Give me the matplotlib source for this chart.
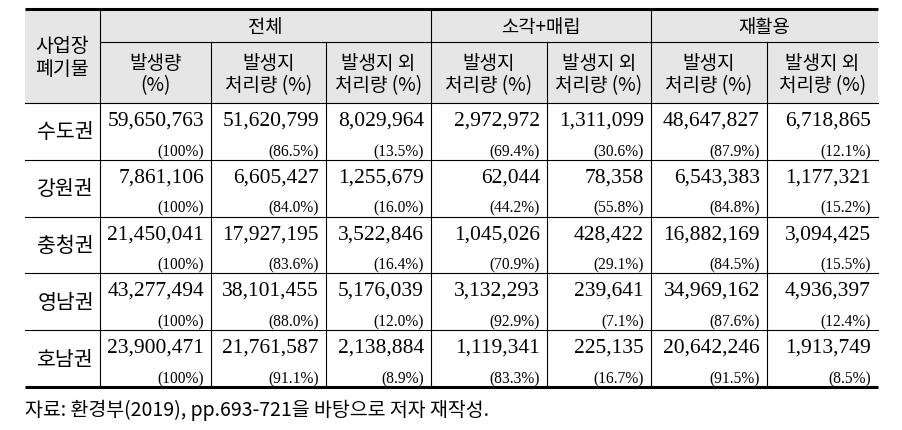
import matplotlib
matplotlib.use("Agg")
import matplotlib.pyplot as plt

plt.rcParams['font.family'] = ['Noto Sans CJK KR', 'DejaVu Sans']

regions = ["수도권", "강원권", "충청권", "영남권", "호남권"]
group_headers = ["전체", "소각+매립", "재활용"]
sub_headers = ["발생량\n(%)", "발생지\n처리량 (%)", "발생지 외\n처리량 (%)",
               "발생지\n처리량 (%)", "발생지 외\n처리량 (%)",
               "발생지\n처리량 (%)", "발생지 외\n처리량 (%)"]
corner_header = "사업장\n폐기물"

amounts = [
    [59650763, 51620799, 8029964, 2972972, 1311099, 48647827, 6718865],
    [7861106, 6605427, 1255679, 62044, 78358, 6543383, 1177321],
    [21450041, 17927195, 3522846, 1045026, 428422, 16882169, 3094425],
    [43277494, 38101455, 5176039, 3132293, 239641, 34969162, 4936397],
    [23900471, 21761587, 2138884, 1119341, 225135, 20642246, 1913749],
]
shares = [
    ["100%", "86.5%", "13.5%", "69.4%", "30.6%", "87.9%", "12.1%"],
    ["100%", "84.0%", "16.0%", "44.2%", "55.8%", "84.8%", "15.2%"],
    ["100%", "83.6%", "16.4%", "70.9%", "29.1%", "84.5%", "15.5%"],
    ["100%", "88.0%", "12.0%", "92.9%", "7.1%", "87.6%", "12.4%"],
    ["100%", "91.1%", "8.9%", "83.3%", "16.7%", "91.5%", "8.5%"],
]
source_note = "자료: 환경부(2019), pp.693-721을 바탕으로 저자 재작성."

# layout (pixel coordinates)
W, H = 903, 431
col_x = [25, 100, 211, 326, 431, 547, 651, 767, 878]
group_spans = [(1, 4), (4, 6), (6, 8)]
y_top, y_mid, y_head = 10, 43, 104
row_h = 56.8

fig = plt.figure(figsize=(W / 100, H / 100), dpi=100)
ax = fig.add_axes([0, 0, 1, 1])
ax.set_xlim(0, W)
ax.set_ylim(H, 0)
ax.axis('off')

# header background
ax.add_patch(plt.Rectangle((col_x[0], y_top), col_x[-1] - col_x[0], y_head - y_top,
                           facecolor='#e6e6e6', edgecolor='none', zorder=0))

serif = ['Liberation Serif', 'DejaVu Serif']
kfont = ['Noto Sans CJK KR', 'DejaVu Sans']
lw_thin = 0.8
lw_thick = 2.2

# horizontal lines
ax.plot([col_x[0], col_x[-1]], [y_top, y_top], color='black', lw=lw_thick, solid_capstyle='butt')
ax.plot([col_x[1], col_x[-1]], [y_mid, y_mid], color='black', lw=lw_thin)
ax.plot([col_x[0], col_x[-1]], [y_head, y_head], color='black', lw=lw_thin)
n = len(regions)
for i in range(1, n):
    y = y_head + i * row_h
    ax.plot([col_x[0], col_x[-1]], [y, y], color='black', lw=lw_thin)
y_bot = y_head + n * row_h
ax.plot([col_x[0], col_x[-1]], [y_bot, y_bot], color='black', lw=lw_thick, solid_capstyle='butt')

# vertical lines
for c in [1, 4, 6]:
    ax.plot([col_x[c], col_x[c]], [y_top, y_bot], color='black', lw=lw_thin)
for c in [2, 3, 5, 7]:
    ax.plot([col_x[c], col_x[c]], [y_mid, y_bot], color='black', lw=lw_thin)

# headers
ax.text((col_x[0] + col_x[1]) / 2, (y_top + y_head) / 2 + 1, corner_header,
        ha='center', va='center', fontsize=14, family=kfont, linespacing=1.1)
for (a, b), g in zip(group_spans, group_headers):
    ax.text((col_x[a] + col_x[b]) / 2, (y_top + y_mid) / 2 + 1, g,
            ha='center', va='center', fontsize=13.5, family=kfont)
for j, s in enumerate(sub_headers):
    ax.text((col_x[j + 1] + col_x[j + 2]) / 2, (y_mid + y_head) / 2 + 1, s,
            ha='center', va='center', fontsize=13.7, family=kfont, linespacing=1.1)

# body
for i, reg in enumerate(regions):
    y0 = y_head + i * row_h
    ax.text(col_x[1] - 6, y0 + row_h / 2, reg, ha='right', va='center',
            fontsize=14.8, family=kfont)
    for j in range(7):
        xr = col_x[j + 2] - 7
        ax.text(xr, y0 + 17, f"{amounts[i][j]:,}", ha='right', va='center',
                fontsize=15.5, family=serif)
        ax.text(xr, y0 + 48, f"({shares[i][j]})", ha='right', va='center',
                fontsize=11.2, family=serif)

ax.text(col_x[0], 410, source_note, ha='left', va='center', fontsize=14, family=kfont)

fig.savefig('out.png', dpi=100)
